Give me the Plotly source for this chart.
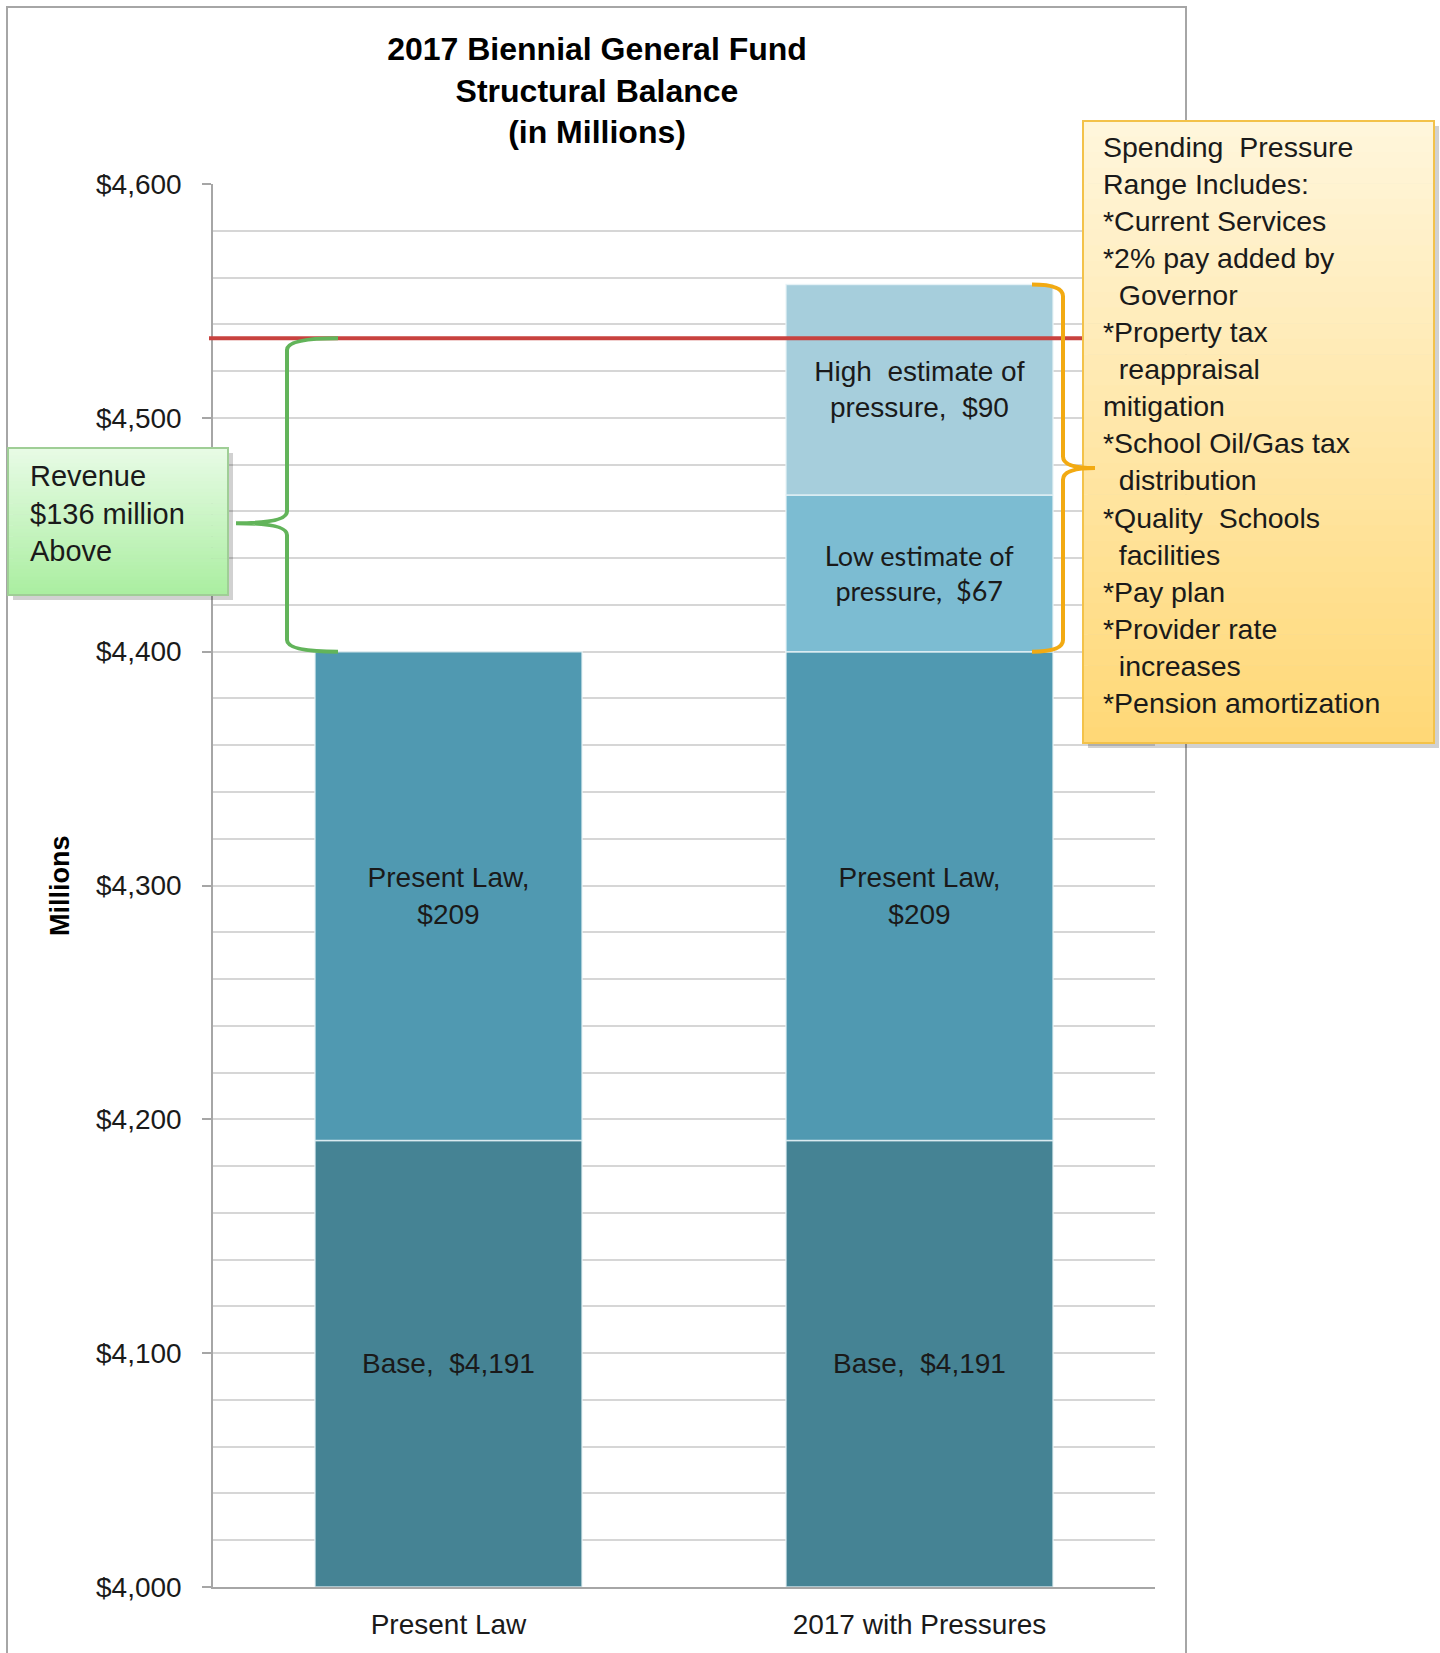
import plotly.graph_objects as go

# ---------------- data ----------------
categories = ["Present Law", "2017 with Pressures"]
base_values = [4191, 4191]
present_law_values = [209, 209]
low_pressure_values = [None, 67]
high_pressure_values = [None, 90]
revenue_above = 136          # revenue above present-law total ($ millions)
revenue_line_level = 4534    # red revenue line
y_tick_values = [4000, 4100, 4200, 4300, 4400, 4500, 4600]
y_tick_labels = [f"${v:,}" for v in y_tick_values]
spending_pressure_items = [
    "Spending  Pressure",
    "Range Includes:",
    "*Current Services",
    "*2% pay added by",
    "\u00a0\u00a0Governor",
    "*Property tax",
    "\u00a0\u00a0reappraisal",
    "mitigation",
    "*School Oil/Gas tax",
    "\u00a0\u00a0distribution",
    "*Quality  Schools",
    "\u00a0\u00a0facilities",
    "*Pay plan",
    "*Provider rate",
    "\u00a0\u00a0increases",
    "*Pension amortization",
]

Y_MIN, Y_MAX = y_tick_values[0], y_tick_values[-1]

# ---------------- geometry helpers ----------------
W, H = 1440, 1653
ML, MR, MT, MB = 213, 285, 184, 66
PW, PH = W - ML - MR, H - MT - MB


def px_x(px):
    return (px - ML) / PW


def px_y(py):
    return (H - MB - py) / PH


FONT = "Liberation Sans, Arial, sans-serif"
TXT = "#1a1a1a"

# ---------------- bars ----------------
pl_total = [b + p for b, p in zip(base_values, present_law_values)]
low_top = [t + (l or 0) for t, l in zip(pl_total, low_pressure_values)]

fig = go.Figure()
bar_w = 0.567
edge = dict(color="rgba(235,245,248,0.8)", width=1.5)

fig.add_trace(go.Bar(
    x=categories, y=[v - Y_MIN for v in base_values], base=[Y_MIN] * 2,
    marker=dict(color="#458394", line=edge), width=bar_w,
    text=[f"Base,  ${v:,}" for v in base_values],
    textposition="inside", insidetextanchor="middle", textangle=0,
    textfont=dict(family=FONT, size=28, color=TXT), constraintext="none",
    name="Base", hoverinfo="skip"))

fig.add_trace(go.Bar(
    x=categories, y=present_law_values, base=base_values,
    marker=dict(color="#5099b1", line=edge), width=bar_w,
    text=[f"Present Law,<br>${v:,}" for v in present_law_values],
    textposition="inside", insidetextanchor="middle", textangle=0,
    textfont=dict(family=FONT, size=28, color=TXT), constraintext="none",
    name="Present Law", hoverinfo="skip"))

fig.add_trace(go.Bar(
    x=categories, y=low_pressure_values, base=pl_total,
    marker=dict(color="#7cbcd2", line=edge), width=bar_w,
    text=[None if v is None else f"Low estimate of<br>pressure,  ${v}" for v in low_pressure_values],
    textposition="inside", insidetextanchor="middle", textangle=0,
    textfont=dict(family="Lato, Open Sans, sans-serif", size=27, color=TXT), constraintext="none",
    name="Low", hoverinfo="skip"))

fig.add_trace(go.Bar(
    x=categories, y=high_pressure_values, base=low_top,
    marker=dict(color="#a6cedc", line=edge), width=bar_w,
    text=[None if v is None else f"High  estimate of<br>pressure,  ${v}" for v in high_pressure_values],
    textposition="inside", insidetextanchor="middle", textangle=0,
    textfont=dict(family=FONT, size=28, color=TXT), constraintext="none",
    name="High", hoverinfo="skip"))

# ---------------- shapes ----------------
shapes = []

# outer chart frame
shapes.append(dict(type="rect", xref="paper", yref="paper",
                   x0=px_x(7), x1=px_x(1186), y0=px_y(1700), y1=px_y(7),
                   line=dict(color="#a6a6a6", width=2), fillcolor="rgba(0,0,0,0)", layer="below"))

# red revenue line
shapes.append(dict(type="line", xref="paper", yref="y",
                   x0=px_x(209), x1=px_x(1090), y0=revenue_line_level, y1=revenue_line_level,
                   line=dict(color="#c8423f", width=4), layer="above"))


def lerp(c1, c2, t):
    return tuple(round(a + (b - a) * t) for a, b in zip(c1, c2))


def gradient_box(x0, y0, x1, y1, ctop, cbot, border, n=40):
    out = []
    # shadow
    out.append(dict(type="rect", xref="paper", yref="paper",
                    x0=px_x(x0 + 5), x1=px_x(x1 + 5), y0=px_y(y1 + 5), y1=px_y(y0 + 5),
                    fillcolor="rgba(0,0,0,0.18)", line=dict(width=0), layer="above"))
    step = (y1 - y0) / n
    for i in range(n):
        c = lerp(ctop, cbot, (i + 0.5) / n)
        out.append(dict(type="rect", xref="paper", yref="paper",
                        x0=px_x(x0), x1=px_x(x1),
                        y0=px_y(y0 + (i + 1) * step + 0.6), y1=px_y(y0 + i * step),
                        fillcolor=f"rgb{c}", line=dict(width=0), layer="above"))
    out.append(dict(type="rect", xref="paper", yref="paper",
                    x0=px_x(x0), x1=px_x(x1), y0=px_y(y1), y1=px_y(y0),
                    fillcolor="rgba(0,0,0,0)", line=dict(color=border, width=2), layer="above"))
    return out


def brace(x_end, x_vert, x_tip, y_top, y_bot, y_mid, r):
    return (f"M {x_end},{y_top} Q {x_vert},{y_top} {x_vert},{y_top - r} "
            f"L {x_vert},{y_mid + r} Q {x_vert},{y_mid} {x_tip},{y_mid} "
            f"Q {x_vert},{y_mid} {x_vert},{y_mid - r} "
            f"L {x_vert},{y_bot + r} Q {x_vert},{y_bot} {x_end},{y_bot}")


# green "revenue above" box
shapes += gradient_box(8, 448, 228, 595, (232, 251, 230), (170, 238, 160), "#9fce96")

# green brace from present-law top to revenue line
g_top = revenue_line_level
g_bot = pl_total[0]
g_mid = g_bot + (g_top - g_bot) * 0.41
shapes.append(dict(type="path", xref="paper", yref="y",
                   path=brace(px_x(338), px_x(287), px_x(236), g_top, g_bot, g_mid, 5),
                   line=dict(color="#62b45a", width=4), layer="above"))

# yellow spending-pressure box
shapes += gradient_box(1083, 121, 1434, 743, (255, 246, 220), (255, 216, 118), "#f3c24a")

# orange brace spanning the pressure range
o_top = low_top[1] + high_pressure_values[1]
o_bot = pl_total[1]
o_mid = (o_top + o_bot) / 2
shapes.append(dict(type="path", xref="paper", yref="y",
                   path=brace(px_x(1032), px_x(1063), px_x(1095), o_top, o_bot, o_mid, 5),
                   line=dict(color="#f2aa12", width=4), layer="above"))

# ---------------- annotations ----------------
annotations = [
    dict(text="Millions", xref="paper", yref="paper", x=px_x(60), y=px_y(886),
         textangle=-90, showarrow=False, xanchor="center", yanchor="middle",
         font=dict(family=FONT, size=27, color="#000000", weight="bold")),
    dict(text=f"Revenue<br>${revenue_above} million<br>Above", xref="paper", yref="paper",
         x=px_x(28), y=px_y(513), xanchor="left", yanchor="middle", align="left",
         showarrow=False, font=dict(family=FONT, size=29, color=TXT)),
    dict(text="<br>".join(spending_pressure_items), xref="paper", yref="paper",
         x=px_x(1101), y=px_y(425), xanchor="left", yanchor="middle", align="left",
         showarrow=False, font=dict(family=FONT, size=28.5, color=TXT)),
]

fig.update_layout(
    width=W, height=H,
    margin=dict(l=ML, r=MR, t=MT, b=MB, pad=0),
    paper_bgcolor="white", plot_bgcolor="white",
    barmode="overlay", showlegend=False,
    title=dict(text="<b>2017 Biennial General Fund<br>Structural Balance<br>(in Millions)</b>",
               x=597 / W, xref="container", xanchor="center",
               y=1 - 60 / H, yref="container", yanchor="middle",
               font=dict(family=FONT, size=32, color="#000000")),
    xaxis=dict(type="category", range=[-0.5, 1.5], showline=True, linecolor="#a6a6a6",
               linewidth=2, ticks="", showgrid=False,
               tickfont=dict(family=FONT, size=28, color=TXT), ticklabelstandoff=11),
    yaxis=dict(range=[Y_MIN, Y_MAX], tickvals=y_tick_values, ticktext=y_tick_labels,
               showgrid=True, gridcolor="#d6d6d6", gridwidth=1.5,
               minor=dict(dtick=20, tick0=Y_MIN, showgrid=True, gridcolor="#d6d6d6", gridwidth=1.5),
               showline=True, linecolor="#a6a6a6", linewidth=1.5, zeroline=False,
               ticks="outside", ticklen=9, tickcolor="#a6a6a6", tickwidth=1.5,
               ticklabelstandoff=15,
               tickfont=dict(family=FONT, size=28, color=TXT)),
    shapes=shapes, annotations=annotations,
)

fig.write_html("out.html")
